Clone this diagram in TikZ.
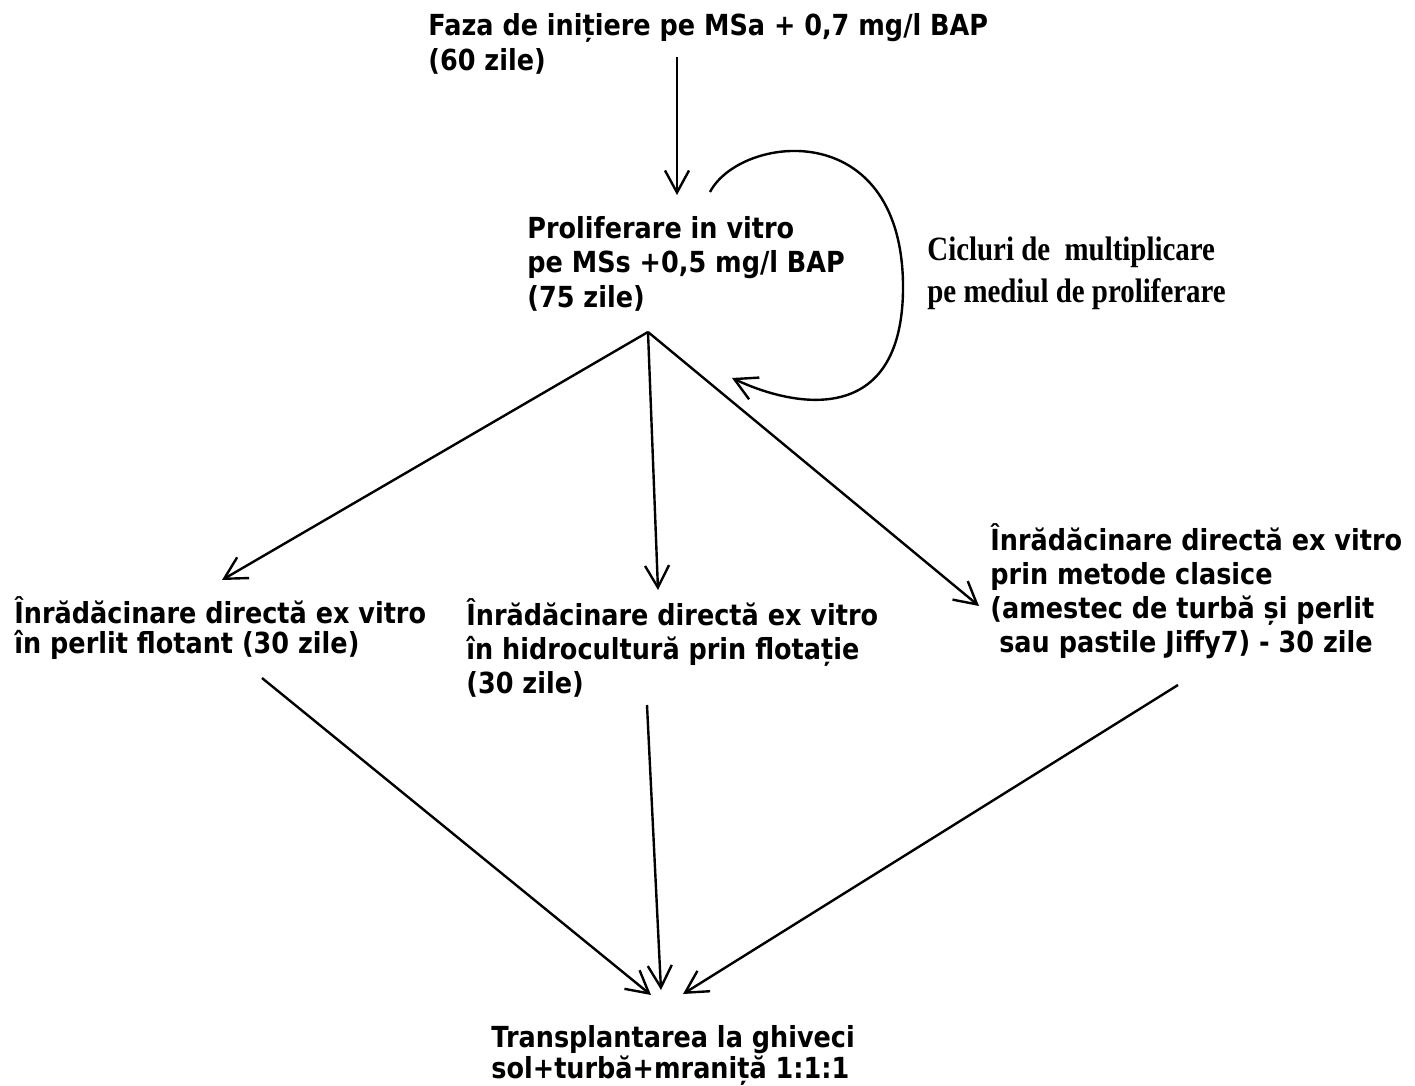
\documentclass[tikz,border=0pt]{standalone}
\usepackage{fontspec}
\newfontfamily\dejabf[FakeStretch=0.88]{DejaVu Sans}
\newfontfamily\timesbf[FakeStretch=0.85]{Liberation Serif}
\usetikzlibrary{arrows.meta}
\newcommand{\fst}{\rule{0pt}{14.5pt}}
\newcommand{\sst}{\rule{0pt}{17pt}}

\begin{document}
\begin{tikzpicture}[x=0.5pt,y=-0.5pt,
	arr/.style={-{Straight Barb[length=11pt,width=12pt]},line width=1.2pt},
	stage/.style={anchor=north west,inner sep=0pt,align=left,yshift=14.5pt,
		font=\dejabf\bfseries\fontsize{14.5pt}{#1}\selectfont},
	loopnote/.style={anchor=north west,inner sep=0pt,align=left,yshift=17pt,
		font=\timesbf\bfseries\fontsize{17pt}{21pt}\selectfont}]
	\useasboundingbox (0,0) rectangle (1415,1086);
	\node[stage=17.5pt] (init) at (428,35) {\fst Faza de inițiere pe MSa + 0,7 mg/l BAP\\(60 zile)};
	\node[stage=17.25pt] (prolif) at (527,238) {\fst Proliferare in vitro\\pe MSs +0,5 mg/l BAP\\(75 zile)};
	\node[loopnote] (cycles) at (927,260) {\sst Cicluri de\ \ multiplicare\\pe mediul de proliferare};
	\node[stage=15pt] (perlit) at (14,623) {\fst Înrădăcinare directă ex vitro\\în perlit flotant (30 zile)};
	\node[stage=17pt] (hidro) at (466,625) {\fst Înrădăcinare directă ex vitro\\în hidrocultură prin flotație\\(30 zile)};
	\node[stage=17pt] (clasic) at (990,550) {\fst Înrădăcinare directă ex vitro\\prin metode clasice\\(amestec de turbă și perlit\\\ sau pastile Jiffy7) - 30 zile};
	\node[stage=14pt] (ghiveci) at (491,1047) {\fst Transplantarea la ghiveci\\sol+turbă+mraniță 1:1:1};
	\coordinate (initout) at (677,57);
	\coordinate (prolifin) at (677,195);
	\coordinate (split) at (648,332);
	\coordinate (loopout) at (710,192);
	\coordinate (loopin) at (732,378);
	\coordinate (perlitin) at (222,580);
	\coordinate (hidroin) at (658,590);
	\coordinate (clasicin) at (979,606);
	\coordinate (perlitout) at (262,678);
	\coordinate (hidroout) at (647,705);
	\coordinate (clasicout) at (1178,685);
	\coordinate (ghivecil) at (651,995);
	\coordinate (ghivecim) at (661,990);
	\coordinate (ghivecir) at (683,994);
	\draw[arr] (initout) -- (prolifin);
	\draw[arr] (loopout) .. controls (740,135) and (900,115) .. (903,283)
		.. controls (905,425) and (800,410) .. (loopin);
	\draw[arr] (split) -- (perlitin);
	\draw[arr] (split) -- (hidroin);
	\draw[arr] (split) -- (clasicin);
	\draw[arr] (perlitout) -- (ghivecil);
	\draw[arr] (hidroout) -- (ghivecim);
	\draw[arr] (clasicout) -- (ghivecir);
\end{tikzpicture}
\end{document}
